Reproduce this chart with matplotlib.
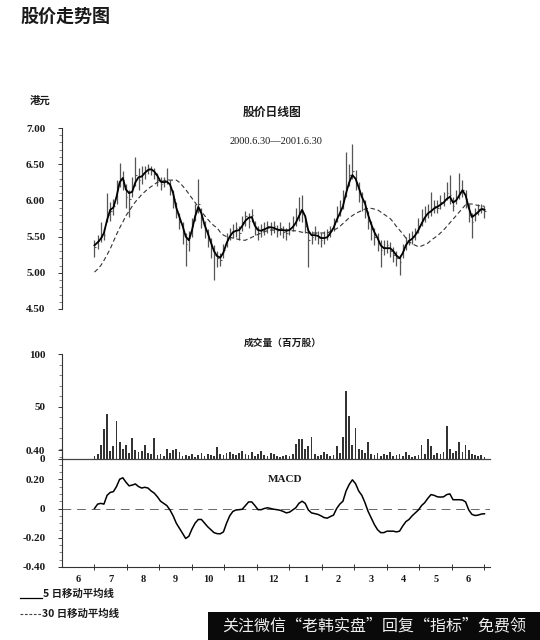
import numpy as np
import matplotlib
matplotlib.use("Agg")
import matplotlib.pyplot as plt
from matplotlib.ticker import MultipleLocator, FixedLocator, FixedFormatter, NullFormatter
from matplotlib.lines import Line2D
from matplotlib.patches import Rectangle

# ---- daily data, 2000.6.30 - 2001.6.30 (HK$) ----
close = [5.35, 5.44, 5.50, 5.52, 5.80, 5.85, 5.92, 6.15, 6.30, 6.28,
         6.05, 6.02, 6.20, 6.35, 6.28, 6.38, 6.40, 6.45, 6.42, 6.36,
         6.28, 6.22, 6.27, 6.30, 6.18, 6.02, 5.85, 5.70, 5.55, 5.40,
         5.48, 5.65, 5.85, 5.95, 5.75, 5.60, 5.48, 5.35, 5.25, 5.20,
         5.18, 5.32, 5.45, 5.55, 5.58, 5.62, 5.55, 5.70, 5.78, 5.72,
         5.80, 5.60, 5.55, 5.60, 5.62, 5.65, 5.60, 5.65, 5.58, 5.62,
         5.56, 5.55, 5.62, 5.68, 5.75, 5.85, 5.82, 5.65, 5.45, 5.50,
         5.55, 5.48, 5.45, 5.50, 5.52, 5.58, 5.68, 5.80, 5.88, 6.00,
         6.20, 6.35, 6.40, 6.25, 6.10, 5.98, 5.85, 5.72, 5.60, 5.50,
         5.42, 5.32, 5.36, 5.38, 5.30, 5.25, 5.20, 5.15, 5.32, 5.42,
         5.45, 5.50, 5.55, 5.65, 5.75, 5.80, 5.85, 5.88, 5.92, 5.90,
         5.98, 6.02, 6.10, 6.08, 5.92, 6.05, 6.12, 6.15, 6.02, 5.80,
         5.70, 5.82, 5.88, 5.90, 5.85]

high = [5.45, 5.52, 5.70, 5.62, 6.10, 5.98, 6.02, 6.28, 6.51, 6.40,
        6.22, 6.15, 6.32, 6.60, 6.45, 6.48, 6.48, 6.50, 6.48, 6.45,
        6.38, 6.32, 6.33, 6.45, 6.28, 6.15, 5.98, 5.82, 5.70, 5.55,
        5.58, 5.75, 5.95, 6.29, 5.90, 5.72, 5.60, 5.48, 5.38, 5.30,
        5.28, 5.40, 5.55, 5.62, 5.68, 5.70, 5.65, 5.78, 5.85, 5.82,
        5.88, 5.72, 5.65, 5.68, 5.70, 5.72, 5.70, 5.72, 5.66, 5.70,
        5.65, 5.62, 5.70, 5.78, 5.90, 6.05, 6.07, 5.80, 5.60, 5.58,
        5.65, 5.58, 5.55, 5.58, 5.60, 5.65, 5.75, 5.92, 6.00, 6.15,
        6.67, 6.50, 6.78, 6.42, 6.25, 6.12, 6.00, 5.85, 5.72, 5.62,
        5.55, 5.45, 5.45, 5.45, 5.42, 5.35, 5.30, 5.25, 5.40, 5.50,
        5.55, 5.58, 5.62, 5.75, 5.88, 5.92, 5.95, 6.12, 6.00, 6.00,
        6.08, 6.12, 6.25, 6.35, 6.05, 6.15, 6.38, 6.28, 6.15, 5.95,
        5.82, 5.90, 5.95, 5.95, 5.92]

low = [5.22, 5.33, 5.42, 5.45, 5.70, 5.72, 5.80, 5.95, 6.18, 6.15,
       5.90, 5.77, 6.05, 6.20, 6.15, 6.22, 6.30, 6.36, 6.35, 6.30,
       6.20, 6.15, 6.18, 6.22, 6.08, 5.90, 5.75, 5.60, 5.40, 5.09,
       5.30, 5.50, 5.72, 5.82, 5.62, 5.48, 5.35, 5.20, 4.90, 5.08,
       5.10, 5.20, 5.35, 5.45, 5.48, 5.50, 5.45, 5.58, 5.65, 5.62,
       5.70, 5.52, 5.45, 5.50, 5.52, 5.55, 5.52, 5.55, 5.50, 5.52,
       5.48, 5.45, 5.52, 5.58, 5.65, 5.72, 5.70, 5.55, 5.08, 5.40,
       5.45, 5.40, 5.35, 5.40, 5.45, 5.50, 5.58, 5.70, 5.78, 5.88,
       6.05, 6.20, 6.30, 6.15, 5.98, 5.85, 5.75, 5.60, 5.45, 5.38,
       5.30, 5.08, 5.25, 5.28, 5.22, 5.15, 5.10, 4.97, 5.20, 5.32,
       5.38, 5.40, 5.45, 5.55, 5.65, 5.70, 5.75, 5.78, 5.82, 5.82,
       5.88, 5.92, 6.00, 5.95, 5.85, 5.95, 6.02, 6.05, 5.90, 5.70,
       5.48, 5.72, 5.80, 5.82, 5.76]

ma5 = [5.38, 5.42, 5.47, 5.55, 5.73, 5.87, 5.90, 6.05, 6.25, 6.31,
       6.15, 6.10, 6.12, 6.25, 6.32, 6.33, 6.38, 6.42, 6.43, 6.40,
       6.34, 6.26, 6.25, 6.26, 6.22, 6.10, 5.90, 5.77, 5.65, 5.50,
       5.45, 5.59, 5.78, 5.91, 5.82, 5.66, 5.55, 5.42, 5.30, 5.23,
       5.21, 5.28, 5.41, 5.50, 5.56, 5.58, 5.59, 5.65, 5.72, 5.76,
       5.77, 5.65, 5.59, 5.58, 5.60, 5.62, 5.63, 5.62, 5.60, 5.59,
       5.59, 5.58, 5.59, 5.63, 5.69, 5.78, 5.87, 5.78, 5.58, 5.52,
       5.52, 5.51, 5.48, 5.48, 5.49, 5.55, 5.62, 5.73, 5.82, 5.92,
       6.10, 6.25, 6.35, 6.30, 6.18, 6.05, 5.96, 5.80, 5.67, 5.56,
       5.48, 5.38, 5.34, 5.34, 5.34, 5.30, 5.24, 5.20, 5.27, 5.38,
       5.44, 5.47, 5.52, 5.59, 5.68, 5.76, 5.82, 5.85, 5.89, 5.91,
       5.94, 5.97, 6.02, 6.05, 5.97, 6.00, 6.07, 6.14, 6.07, 5.90,
       5.77, 5.80, 5.84, 5.88, 5.87]

ma30 = [5.01, 5.05, 5.10, 5.17, 5.25, 5.33, 5.43, 5.53, 5.62, 5.70,
        5.79, 5.85, 5.92, 5.98, 6.03, 6.08, 6.12, 6.16, 6.19, 6.22,
        6.25, 6.26, 6.27, 6.28, 6.28, 6.28, 6.28, 6.25, 6.20, 6.15,
        6.09, 6.03, 5.97, 5.91, 5.85, 5.79, 5.74, 5.69, 5.65, 5.62,
        5.56, 5.52, 5.50, 5.49, 5.48, 5.47, 5.46, 5.45, 5.45, 5.47,
        5.49, 5.51, 5.53, 5.55, 5.57, 5.58, 5.59, 5.59, 5.59, 5.59,
        5.59, 5.59, 5.59, 5.58, 5.58, 5.57, 5.56, 5.56, 5.55, 5.55,
        5.55, 5.55, 5.55, 5.55, 5.55, 5.57, 5.59, 5.61, 5.64, 5.68,
        5.72, 5.76, 5.79, 5.82, 5.84, 5.86, 5.88, 5.89, 5.89, 5.88,
        5.87, 5.84, 5.81, 5.78, 5.75, 5.70, 5.64, 5.59, 5.54, 5.48,
        5.43, 5.40, 5.38, 5.36, 5.37, 5.39, 5.41, 5.45, 5.48, 5.51,
        5.55, 5.59, 5.64, 5.69, 5.74, 5.79, 5.84, 5.89, 5.94, 5.95,
        5.95, 5.94, 5.93, 5.92, 5.92]

# turnover, million shares
volume = [3, 5, 13, 29, 43, 8, 12, 36, 16, 10,
          13, 6, 20, 9, 7, 8, 13, 6, 5, 20,
          4, 5, 3, 10, 6, 9, 10, 7, 3, 4,
          3, 5, 2, 4, 6, 3, 5, 4, 3, 11,
          5, 4, 6, 7, 5, 4, 6, 8, 5, 4,
          7, 3, 5, 8, 4, 3, 6, 5, 3, 2,
          3, 4, 3, 5, 14, 19, 19, 10, 12, 21,
          5, 3, 4, 7, 5, 3, 4, 12, 6, 21,
          65, 41, 13, 30, 10, 9, 6, 16, 5, 4,
          6, 3, 5, 4, 7, 3, 4, 5, 3, 7,
          4, 2, 3, 4, 13, 5, 19, 12, 4, 6,
          5, 7, 31, 10, 6, 8, 16, 7, 13, 9,
          5, 4, 3, 4, 2]

macd = [0.00, 0.03, 0.035, 0.03, 0.09, 0.11, 0.115, 0.15, 0.20, 0.21,
        0.18, 0.155, 0.16, 0.168, 0.15, 0.14, 0.145, 0.14, 0.12, 0.105,
        0.08, 0.05, 0.035, 0.02, -0.01, -0.05, -0.10, -0.135, -0.17, -0.205,
        -0.19, -0.14, -0.10, -0.075, -0.075, -0.10, -0.125, -0.145, -0.165, -0.172,
        -0.173, -0.16, -0.10, -0.05, -0.02, -0.01, -0.008, -0.005, 0.02, 0.045,
        0.045, 0.02, -0.008, -0.008, 0.0, 0.005, 0.0, -0.005, -0.008, -0.012,
        -0.02, -0.03, -0.025, -0.01, 0.005, 0.035, 0.05, 0.035, -0.01, -0.03,
        -0.035, -0.04, -0.05, -0.062, -0.066, -0.055, -0.045, 0.0, 0.03, 0.05,
        0.12, 0.165, 0.196, 0.17, 0.12, 0.09, 0.04, -0.02, -0.065, -0.11,
        -0.145, -0.165, -0.165, -0.155, -0.155, -0.155, -0.16, -0.155, -0.12, -0.09,
        -0.075, -0.05, -0.03, -0.01, 0.02, 0.04, 0.07, 0.095, 0.09, 0.08,
        0.078, 0.08, 0.095, 0.10, 0.06, 0.06, 0.06, 0.058, 0.045, -0.01,
        -0.04, -0.048, -0.045, -0.038, -0.036]

month_labels = ["6", "7", "8", "9", "10", "11", "12", "1", "2", "3", "4", "5", "6"]

# ---- layout helpers (pixel boxes on a 540x640 canvas) ----
W, H = 540, 640
fig = plt.figure(figsize=(W / 100, H / 100), dpi=100)
fig.patch.set_facecolor("white")

CJK = ["Noto Sans CJK SC", "DejaVu Sans"]
SERIF = ["Liberation Serif", "DejaVu Serif"]
INK = "#1a1a1a"


def box(x0, x1, ytop, ybot):
    return [x0 / W, 1 - ybot / H, (x1 - x0) / W, (ybot - ytop) / H]


def ftext(px, py, s, **kw):
    fig.text(px / W, 1 - py / H, s, **kw)


XMAX = 13.17           # months from 1 June 2000
n = len(close)
x = np.linspace(1.0, 13.0, n)   # trading days, 30 Jun 2000 .. 30 Jun 2001


def style_axis(ax):
    for side in ("top", "right", "bottom"):
        ax.spines[side].set_visible(False)
    ax.spines["left"].set_color("#333333")
    ax.spines["left"].set_linewidth(0.8)
    ax.set_xlim(0, XMAX)
    ax.tick_params(axis="y", which="major", direction="out", length=3,
                   width=0.7, color="#333333", pad=9, labelsize=8,
                   labelcolor=INK)
    ax.tick_params(axis="y", which="minor", direction="out", length=2,
                   width=0.5, color="#555555")
    ax.set_xticks([])
    ax.set_facecolor("none")
    for lab in ax.get_yticklabels():
        lab.set_fontfamily(SERIF)
        lab.set_fontweight("bold")


# ---- price panel ----
ax1 = fig.add_axes(box(62, 490, 128, 309))
ax1.set_ylim(4.5, 7.0)
ax1.yaxis.set_major_locator(FixedLocator([4.5, 5.0, 5.5, 6.0, 6.5, 7.0]))
ax1.yaxis.set_major_formatter(FixedFormatter(["4.50", "5.00", "5.50", "6.00", "6.50", "7.00"]))
ax1.yaxis.set_minor_locator(MultipleLocator(0.1))
style_axis(ax1)

ax1.vlines(x, low, high, color="#555555", lw=0.9)
ax1.hlines(close, x, x + 0.045, color="#555555", lw=0.8)
ax1.plot(x, ma30, color="#333333", lw=0.8, ls=(0, (4, 2.5)))
ax1.plot(x, ma5, color="black", lw=1.3)

# ---- volume panel ----
ax2 = fig.add_axes(box(62, 490, 354, 459))
ax2.set_ylim(0, 100)
ax2.yaxis.set_major_locator(FixedLocator([0, 50, 100]))
ax2.yaxis.set_major_formatter(FixedFormatter(["0", "50", "100"]))
ax2.yaxis.set_minor_locator(MultipleLocator(10))
style_axis(ax2)
ax2.bar(x, volume, width=0.055, color="#333333", linewidth=0)
ax2.axhline(0, color="#444444", lw=0.9, clip_on=False)

# ---- MACD panel ----
ax3 = fig.add_axes(box(62, 490, 450, 567))
ax3.set_ylim(-0.4, 0.4)
ax3.yaxis.set_major_locator(FixedLocator([-0.4, -0.2, 0.0, 0.2, 0.4]))
ax3.yaxis.set_major_formatter(FixedFormatter(["-0.40", "-0.20", "0", "0.20", "0.40"]))
ax3.yaxis.set_minor_locator(MultipleLocator(0.05))
style_axis(ax3)
ax3.spines["bottom"].set_visible(True)
ax3.spines["bottom"].set_color("#333333")
ax3.spines["bottom"].set_linewidth(0.8)
ax3.xaxis.set_major_locator(FixedLocator(np.arange(1, 14)))
ax3.xaxis.set_major_formatter(NullFormatter())
ax3.xaxis.set_minor_locator(FixedLocator(np.arange(13) + 0.5))
ax3.xaxis.set_minor_formatter(FixedFormatter(month_labels))
ax3.tick_params(axis="x", which="major", direction="inout", length=5,
                width=0.7, color="#333333")
ax3.tick_params(axis="x", which="minor", length=0, pad=6, labelsize=7.5,
                labelcolor=INK)
for lab in ax3.get_xticklabels(minor=True):
    lab.set_fontfamily(SERIF)
    lab.set_fontweight("bold")
for lab in ax3.get_yticklabels():
    lab.set_fontfamily(SERIF)
    lab.set_fontweight("bold")

ax3.axhline(0, color="#666666", lw=0.7, ls=(0, (9, 6)))
ax3.plot(x, macd, color="black", lw=1.1)

# ---- titles and labels ----
ftext(20, 16, "股价走势图", family=CJK, fontsize=13, fontweight="bold",
      color=INK, ha="left", va="center")
ftext(30, 101, "港元", family=CJK, fontsize=7.5, fontweight="bold",
      color=INK, ha="left", va="center")
ftext(272, 112, "股价日线图", family=CJK, fontsize=8.5, fontweight="bold",
      color=INK, ha="center", va="center")
ftext(276, 142, "2000.6.30—2001.6.30", family=SERIF, fontsize=7.5,
      color=INK, ha="center", va="center")
ftext(283, 343, "成交量（百万股）", family=CJK, fontsize=7, fontweight="bold",
      color=INK, ha="center", va="center")
ftext(268, 480, "MACD", family=SERIF, fontsize=8, fontweight="bold",
      color=INK, ha="left", va="center")

# ---- legend ----
fig.add_artist(Line2D([20 / W, 42 / W], [1 - 598 / H, 1 - 598 / H],
                      color="black", lw=0.9))
ftext(43, 594, "5 日移动平均线", family=CJK, fontsize=7.5, fontweight="bold",
      color=INK, ha="left", va="center")
fig.add_artist(Line2D([20 / W, 41 / W], [1 - 614 / H, 1 - 614 / H],
                      color="#444444", lw=0.8, ls=(0, (2.5, 1.5))))
ftext(42, 614, "30 日移动平均线", family=CJK, fontsize=7.5, fontweight="bold",
      color=INK, ha="left", va="center")

# ---- banner ----
fig.add_artist(Rectangle((208 / W, 0), 1 - 208 / W, 28 / H,
                         transform=fig.transFigure, facecolor="#0a0a0a",
                         edgecolor="none"))
ftext(374, 626, "关注微信“老韩实盘”回复“指标”免费领", family=CJK,
      fontsize=11.5, color="#eeeeee", ha="center", va="center")

fig.savefig("out.png", dpi=100, facecolor="white")
